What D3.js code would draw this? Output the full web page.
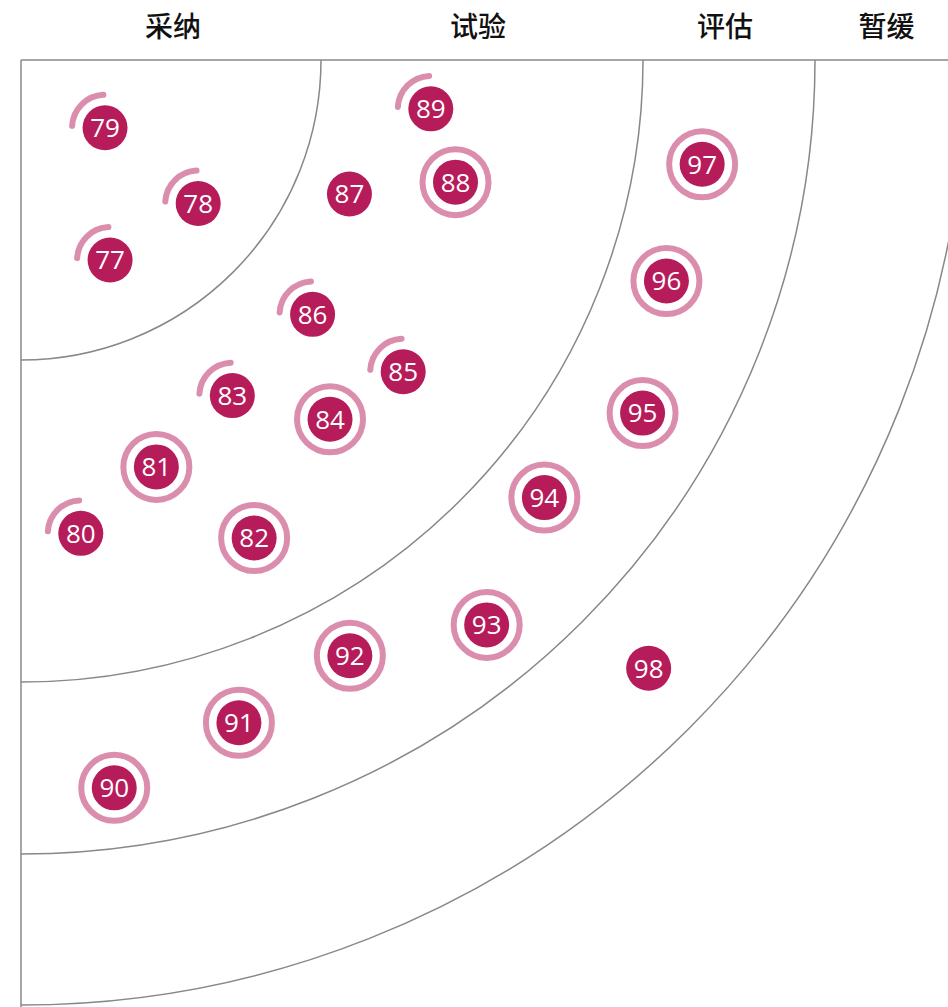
<!DOCTYPE html>
<html>
<head>
<meta charset="utf-8">
<script src="https://cdn.jsdelivr.net/npm/d3@7"></script>
<style>
  body { margin: 0; background: #fff; }
  svg { display: block; }
</style>
</head>
<body>
<svg id="radar" width="948" height="1007"></svg>
<script>
// ring labels, outermost last
var rings = ["采纳", "试验", "评估", "暂缓"];

// blips: id, ring position (ring index + depth inside ring), angle from top edge (deg), status
var blipIds    = [77, 78, 79, 80, 81, 82, 83, 84, 85, 86, 87, 88, 89, 90, 91, 92, 93, 94, 95, 96, 97, 98];
var blipRadius = [0.73, 0.76, 0.36, 1.55, 1.40, 1.72, 1.30, 1.54, 1.60, 1.27, 1.17, 1.47, 1.35,
                  2.65, 2.44, 2.34, 2.64, 2.35, 2.54, 2.35, 2.39, 3.53];
var blipAngle  = [66.0, 39.0, 38.9, 82.8, 71.6, 64.0, 57.8, 49.3, 39.2, 41.1, 22.2, 15.7, 6.8,
                  82.7, 71.8, 61.1, 50.5, 39.9, 29.6, 18.9, 8.7, 44.1];
var blipStatus = ["moved", "moved", "moved", "moved", "new", "new", "moved", "new", "moved", "moved", "none", "new", "moved",
                  "new", "new", "new", "new", "new", "new", "new", "new", "none"];

var width = 948, height = 1007;
var ox = 21, oy = 60;   // corner of the quadrant

var svg = d3.select("#radar");

// ring index -> pixel radius
var r = d3.scaleLinear()
  .domain([0, 1, 2, 3, 4])
  .range([0, 300, 622, 794, 945]);

var a = d3.scaleLinear().domain([0, 90]).range([0, Math.PI / 2]);

var g = svg.append("g").attr("transform", "translate(" + ox + "," + oy + ")");

// arcs for each ring boundary
g.selectAll("path.ring")
  .data(d3.range(1, rings.length + 1))
  .enter()
  .append("path")
  .attr("class", "ring")
  .attr("d", function(d) {
    var p = d3.path();
    p.arc(0, 0, r(d), 0, Math.PI / 2);
    return p.toString();
  })
  .attr("fill", "none")
  .attr("stroke", "#888")
  .attr("stroke-width", 1.5);

// quadrant edges
g.append("line").attr("x1", 0).attr("y1", 0).attr("x2", width - ox).attr("y2", 0)
  .attr("stroke", "#888").attr("stroke-width", 1.5);
g.append("line").attr("x1", 0).attr("y1", 0).attr("x2", 0).attr("y2", height - oy)
  .attr("stroke", "#888").attr("stroke-width", 1.5);

// ring headers
var headShift = [2, -4, -4, -4];
svg.selectAll("text.head")
  .data(rings)
  .enter()
  .append("text")
  .attr("class", "head")
  .attr("x", function(d, i) { return ox + (r(i) + r(i + 1)) / 2 + headShift[i]; })
  .attr("y", 25)
  .attr("text-anchor", "middle")
  .attr("dominant-baseline", "central")
  .style("font-family", "'Noto Sans CJK SC', sans-serif")
  .style("font-size", "28px")
  .style("font-weight", 500)
  .attr("fill", "#111")
  .text(function(d) { return d; });

var blips = blipIds.map(function(id, i) {
  var rad = r(blipRadius[i]), th = a(blipAngle[i]);
  return { id: id, x: rad * Math.cos(th), y: rad * Math.sin(th), status: blipStatus[i] };
});

var b = g.selectAll("g.blip")
  .data(blips)
  .enter()
  .append("g")
  .attr("class", "blip")
  .attr("transform", function(d) { return "translate(" + d.x + "," + d.y + ")"; });

// full ring = new
b.filter(function(d) { return d.status === "new"; })
  .append("circle")
  .attr("r", 33)
  .attr("fill", "none")
  .attr("stroke", "#db8dad")
  .attr("stroke-width", 6);

// quarter arc = moved
b.filter(function(d) { return d.status === "moved"; })
  .append("path")
  .attr("d", function() {
    var p = d3.path();
    p.arc(0, 0, 33, Math.PI + 0.06, Math.PI * 1.5 - 0.05);
    return p.toString();
  })
  .attr("fill", "none")
  .attr("stroke", "#db8dad")
  .attr("stroke-width", 6)
  .attr("stroke-linecap", "round");

b.append("circle")
  .attr("r", 22.5)
  .attr("fill", "#b61b5a");

b.append("text")
  .attr("text-anchor", "middle")
  .attr("dy", "0.36em")
  .style("font-family", "'Open Sans', sans-serif")
  .style("font-size", "26px")
  .attr("fill", "#fff")
  .text(function(d) { return d.id; });
</script>
</body>
</html>
